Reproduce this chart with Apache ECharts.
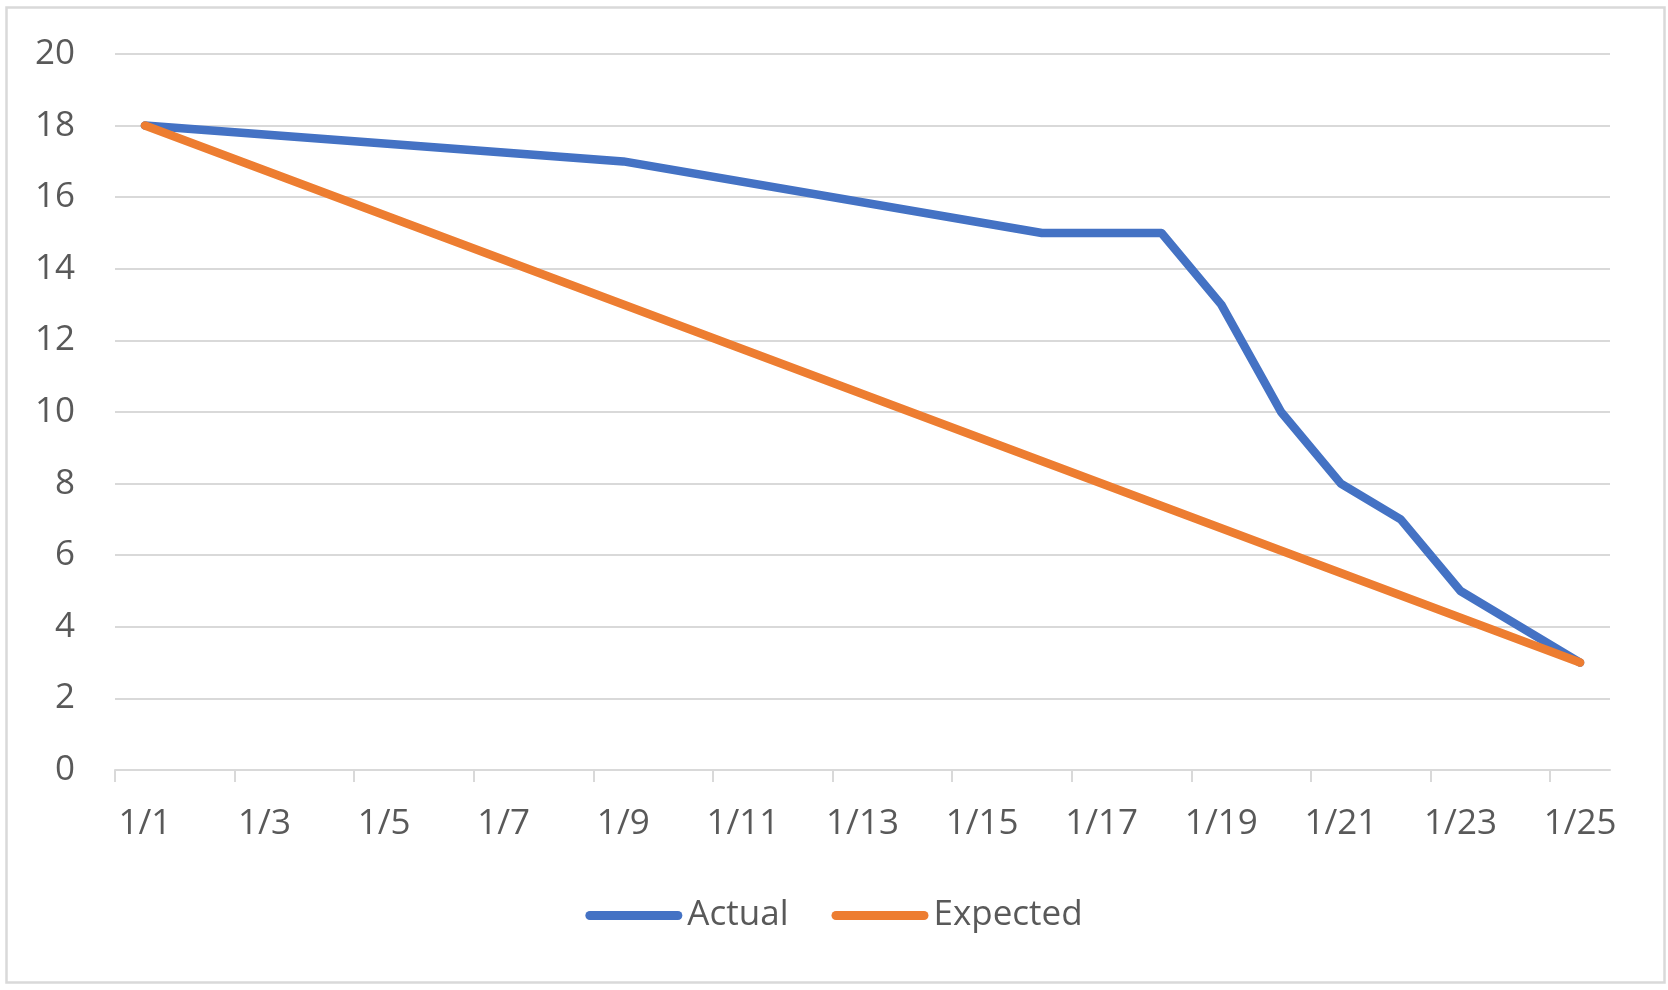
<!DOCTYPE html>
<html>
<head>
<meta charset="utf-8">
<script src="https://cdn.jsdelivr.net/npm/echarts@6/dist/echarts.min.js"></script>
<style>
html,body{margin:0;padding:0;background:#fff;}
#chart{width:1668px;height:990px;}
</style>
</head>
<body>
<div id="chart"></div>
<script>
const categories = ['1/1','1/2','1/3','1/4','1/5','1/6','1/7','1/8','1/9','1/10','1/11','1/12','1/13','1/14','1/15','1/16','1/17','1/18','1/19','1/20','1/21','1/22','1/23','1/24','1/25'];
const actual = [18,null,null,null,null,null,null,null,17,null,null,null,null,null,null,15,null,15,13,10,8,7,5,null,3];
const expected = [18,null,null,null,null,null,null,null,null,null,null,null,null,null,null,null,null,null,null,null,null,null,null,null,3];
const seriesNames = ['Actual','Expected'];
const colors = ['#4472C4','#ED7D31'];

const FONT = '"Open Sans", Lato, sans-serif';
const TEXT = '#595959';
const GRID = '#d9d9d9';
const legendIcon = 'path://M4.5,0 L92.5,0 A4.5,4.5 0 0 1 92.5,9 L4.5,9 A4.5,4.5 0 0 1 4.5,0 Z';
// boundaries between categories, used only to place the tick marks
const boundaries = Array.from({length: categories.length + 1}, () => '');

const chart = echarts.init(document.getElementById('chart'), null, {renderer:'canvas'});
chart.setOption({
  animation: false,
  backgroundColor: '#ffffff',
  color: colors,
  textStyle: {fontFamily: FONT},
  graphic: [{
    type: 'rect', left: 4, top: 5, silent: true,
    shape: {width: 1658, height: 975},
    style: {fill: 'none', stroke: GRID, lineWidth: 2.5}
  }],
  grid: {left: 115, right: 58, top: 54, bottom: 220, containLabel: false},
  legend: {
    data: seriesNames,
    top: 893, left: 'center',
    itemWidth: 97, itemHeight: 9, itemGap: 43,
    icon: legendIcon,
    textStyle: {fontFamily: FONT, fontSize: 35, color: TEXT, lineHeight: 35}
  },
  xAxis: [{
    type: 'category',
    data: categories,
    boundaryGap: true,
    axisLine: {show: true, lineStyle: {color: GRID, width: 2}},
    axisTick: {show: false},
    axisLabel: {interval: 1, margin: 37, fontFamily: FONT, fontSize: 35, color: TEXT, lineHeight: 35},
    splitLine: {show: false}
  }, {
    type: 'category',
    data: boundaries,
    position: 'bottom',
    boundaryGap: false,
    axisLine: {show: false},
    axisTick: {show: true, interval: 1, length: 12, lineStyle: {color: GRID, width: 2}},
    axisLabel: {show: false},
    splitLine: {show: false}
  }],
  yAxis: {
    type: 'value', min: 0, max: 20, interval: 2,
    axisLine: {show: false}, axisTick: {show: false},
    axisLabel: {margin: 40, fontFamily: FONT, fontSize: 35, color: TEXT},
    splitLine: {show: true, lineStyle: {color: GRID, width: 2}}
  },
  series: [
    {name: seriesNames[0], type: 'line', xAxisIndex: 0, data: actual, connectNulls: true, symbol: 'none', smooth: false,
     lineStyle: {width: 8.5, color: colors[0], cap: 'round', join: 'round'}, itemStyle: {color: colors[0]}},
    {name: seriesNames[1], type: 'line', xAxisIndex: 0, data: expected, connectNulls: true, symbol: 'none', smooth: false,
     lineStyle: {width: 8.5, color: colors[1], cap: 'round', join: 'round'}, itemStyle: {color: colors[1]}}
  ]
});
</script>
</body>
</html>
